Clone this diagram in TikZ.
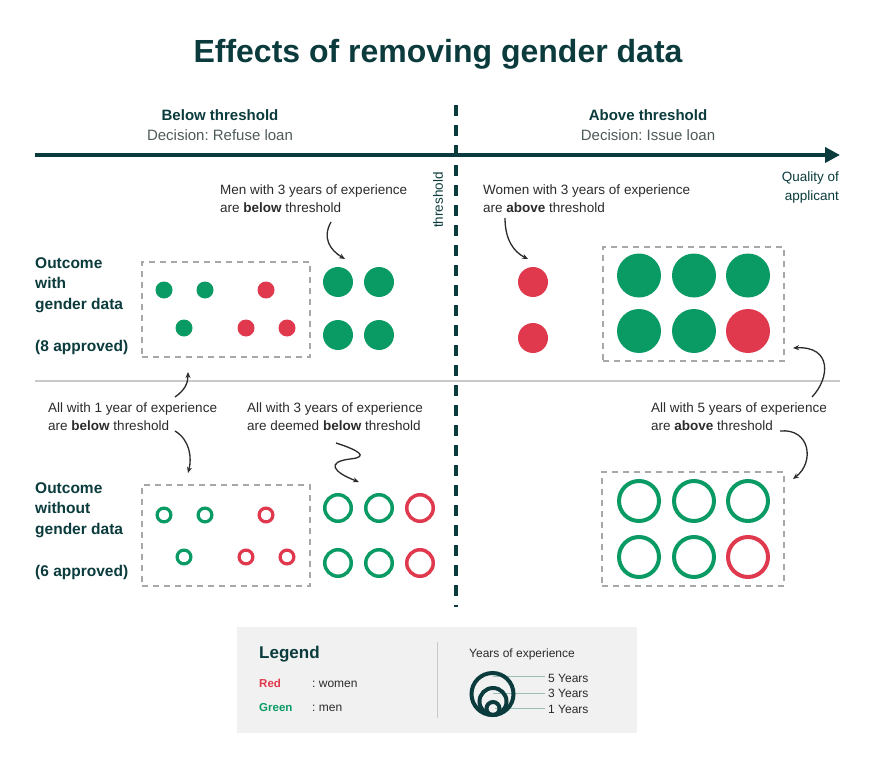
\documentclass[tikz,border=0pt]{standalone}
\usepackage{fontspec}
\setmainfont{Liberation Sans}
\usetikzlibrary{arrows.meta}
\frenchspacing
\definecolor{dteal}{HTML}{0B3B3C}
\definecolor{cgreen}{HTML}{0A9A64}
\definecolor{cred}{HTML}{E0394D}
\definecolor{boxgray}{HTML}{A8A8A8}
\definecolor{sepgray}{HTML}{C9C9C9}
\definecolor{legbg}{HTML}{F1F1F1}
\definecolor{anntext}{HTML}{2B2B2B}
\definecolor{decgray}{HTML}{4F5B5B}
\definecolor{legline}{HTML}{9CBDB8}
\newcommand\myfs[2]{\fontsize{#1}{#2}\selectfont}
\tikzset{
  dbox/.style={draw=boxgray, line width=2, dash pattern=on 6pt off 5pt, inner sep=0},
  sfill/.style={circle, inner sep=0, minimum size=17},
  mfill/.style={circle, inner sep=0, minimum size=30},
  lfill/.style={circle, inner sep=0, minimum size=44},
  sring/.style={circle, inner sep=0, minimum size=13.8, line width=3.2, fill=none},
  mring/.style={circle, inner sep=0, minimum size=26.5, line width=3.5, fill=none},
  lring/.style={circle, inner sep=0, minimum size=40, line width=4, fill=none},
  gf/.style={fill=cgreen}, rf/.style={fill=cred},
  gd/.style={draw=cgreen}, rd/.style={draw=cred},
  ann/.style={draw=anntext, line width=1.3, -{Stealth[length=6pt,width=5pt]}},
  anntxt/.style={anchor=north west, inner sep=0, align=left, text=anntext, font={\myfs{13.5}{18}}},
  outlbl/.style={anchor=north west, inner sep=0, align=left, text=dteal, font={\myfs{15.5}{20.5}\bfseries}},
  outcnt/.style={anchor=base west, inner sep=0, text=dteal, font={\myfs{15.5}{20.5}\bfseries}},
  headb/.style={anchor=base, inner sep=0, text=dteal, font={\myfs{15}{18}\bfseries}},
  headd/.style={anchor=base, inner sep=0, text=decgray, font={\myfs{15}{18}}},
  legtxt/.style={anchor=base west, inner sep=0, text=anntext, font={\myfs{12}{14}}},
}
\begin{document}
\begin{tikzpicture}[x=1pt,y=-1pt]
\useasboundingbox (0,0) rectangle (874,767);
\fill[white] (0,0) rectangle (874,767);

% title
\node[anchor=base, inner sep=0, text=dteal, font={\myfs{32}{38}\bfseries}] (title) at (438,63) {Effects of removing gender data};

% headers
\node[headb] (bt) at (220,121) {Below threshold};
\node[headd] (bd) at (220,141) {Decision: Refuse loan};
\node[headb] (at) at (648,121) {Above threshold};
\node[headd] (ad) at (648,141) {Decision: Issue loan};

% axis
\coordinate (axL) at (35,155);
\coordinate (axR) at (840,155);
\draw[line width=4.5, dteal, -{Triangle[length=15pt,width=15pt]}] (axL) -- (axR);
\node[anchor=north east, inner sep=0, align=right, text=dteal, font={\myfs{13.5}{19}}] (qual) at (839,172) {Quality of\\applicant};

% separator
\coordinate (sepL) at (35,381);
\coordinate (sepR) at (840,381);
\draw[sepgray, line width=2] (sepL) -- (sepR);

% threshold
\coordinate (thT) at (456,105);
\coordinate (thB) at (456,607);
\draw[line width=4.5, dteal, dash pattern=on 11pt off 9pt] (thT) -- (thB);
\node[rotate=90, inner sep=0, text=dteal, font={\myfs{13.5}{16}}] (thl) at (438,200) {threshold};

% annotations
\node[anntxt] (men) at (220,185) {Men with 3 years of experience\\are \textbf{below} threshold};
\node[anntxt] (women) at (483,185) {Women with 3 years of experience\\are \textbf{above} threshold};
\node[anntxt] (one) at (48,403) {All with 1 year of experience\\are \textbf{below} threshold};
\node[anntxt] (three) at (247,403) {All with 3 years of experience\\are deemed \textbf{below} threshold};
\node[anntxt] (five) at (651,403) {All with 5 years of experience\\are \textbf{above} threshold};

% outcome labels
\node[outlbl] (o1) at (35,257) {Outcome\\with\\gender data};
\node[outcnt] (o1c) at (35,351) {(8 approved)};
\node[outlbl] (o2) at (35,482) {Outcome\\without\\gender data};
\node[outcnt] (o2c) at (35,576) {(6 approved)};

% boxes
\node[dbox, minimum width=168, minimum height=95] (bA) at (226,309.5) {};
\node[dbox, minimum width=181, minimum height=114] (bB) at (693.5,304) {};
\node[dbox, minimum width=168, minimum height=101] (bC) at (226,535.5) {};
\node[dbox, minimum width=182, minimum height=114] (bD) at (693,529) {};

% top-left small dots
\node[sfill,gf] (a1) at (164,290) {};
\node[sfill,gf] (a2) at (205,290) {};
\node[sfill,rf] (a3) at (266,290) {};
\node[sfill,gf] (a4) at (184,328) {};
\node[sfill,rf] (a5) at (246,328) {};
\node[sfill,rf] (a6) at (287,328) {};
% top-left medium dots
\node[mfill,gf] (b1) at (338,282) {};
\node[mfill,gf] (b2) at (379,282) {};
\node[mfill,gf] (b3) at (338,335) {};
\node[mfill,gf] (b4) at (379,335) {};
% top-right women
\node[mfill,rf] (c1) at (533,282) {};
\node[mfill,rf] (c2) at (533,338) {};
% top-right large
\node[lfill,gf] (d1) at (639,275.5) {};
\node[lfill,gf] (d2) at (694,275.5) {};
\node[lfill,gf] (d3) at (748,275.5) {};
\node[lfill,gf] (d4) at (639,331) {};
\node[lfill,gf] (d5) at (694,331) {};
\node[lfill,rf] (d6) at (748,331) {};

% bottom-left small rings
\node[sring,gd] (e1) at (164,515) {};
\node[sring,gd] (e2) at (205,515) {};
\node[sring,rd] (e3) at (266,515) {};
\node[sring,gd] (e4) at (184,557) {};
\node[sring,rd] (e5) at (246,557) {};
\node[sring,rd] (e6) at (287,557) {};
% bottom medium rings
\node[mring,gd] (f1) at (338,508) {};
\node[mring,gd] (f2) at (379,508) {};
\node[mring,rd] (f3) at (420,508) {};
\node[mring,gd] (f4) at (338,563) {};
\node[mring,gd] (f5) at (379,563) {};
\node[mring,rd] (f6) at (420,563) {};
% bottom right large rings
\node[lring,gd] (g1) at (639,501) {};
\node[lring,gd] (g2) at (694,501) {};
\node[lring,gd] (g3) at (748,501) {};
\node[lring,gd] (g4) at (639,557) {};
\node[lring,gd] (g5) at (694,557) {};
\node[lring,rd] (g6) at (748,557) {};

% arrows
\coordinate (m0) at (331,222); \coordinate (m1) at (345,259);
\draw[ann] (m0) .. controls (322,238) and (330,250) .. (m1);
\coordinate (w0) at (505,218); \coordinate (w1) at (528,259);
\draw[ann] (w0) .. controls (505,240) and (514,252) .. (w1);
\coordinate (r0) at (812,397); \coordinate (r1) at (793,348);
\draw[ann] (r0) .. controls (830,378) and (832,346) .. (r1);
\coordinate (l0) at (175,397); \coordinate (l1) at (188,372);
\draw[ann] (l0) .. controls (185,390) and (188,383) .. (l1);
\coordinate (n0) at (175,431); \coordinate (n1) at (188,473);
\draw[ann] (n0) .. controls (190,440) and (192,458) .. (n1);
\coordinate (q0) at (336,443); \coordinate (q1) at (350,459); \coordinate (q2) at (359,482);
\draw[ann] (q0) .. controls (358,450) and (370,457) .. (q1) .. controls (326,462) and (333,472) .. (q2);
\coordinate (v0) at (780,431); \coordinate (v1) at (793,479);
\draw[ann] (v0) .. controls (810,428) and (815,462) .. (v1);

% legend
\node[fill=legbg, minimum width=400, minimum height=106, inner sep=0] (legend) at (437,680) {};
\coordinate (dvT) at (437,642); \coordinate (dvB) at (437,718);
\draw[sepgray, line width=1] (dvT) -- (dvB);
\node[anchor=base west, inner sep=0, text=dteal, font={\myfs{17}{20}\bfseries}] (legt) at (259,658) {Legend};
\node[anchor=base west, inner sep=0, text=cred, font={\myfs{11.5}{14}\bfseries}] (lred) at (259,687) {Red};
\node[legtxt] (lwomen) at (312,687) {: women};
\node[anchor=base west, inner sep=0, text=cgreen, font={\myfs{11.5}{14}\bfseries}] (lgreen) at (259,711) {Green};
\node[legtxt] (lmen) at (312,711) {: men};
\node[legtxt] (lyears) at (469,657) {Years of experience};
\node[legtxt] (y5) at (548,682) {5 Years};
\node[legtxt] (y3) at (548,697) {3 Years};
\node[legtxt] (y1) at (548,713) {1 Years};
\coordinate (k5) at (493,676); \coordinate (k5e) at (545,676);
\coordinate (k3) at (493,693); \coordinate (k3e) at (545,693);
\coordinate (k1) at (495,708); \coordinate (k1e) at (545,708);
\draw[legline, line width=1] (k5) -- (k5e);
\draw[legline, line width=1] (k3) -- (k3e);
\draw[legline, line width=1] (k1) -- (k1e);
\node[circle, draw=dteal, line width=4, inner sep=0, minimum size=42] (cy5) at (492.5,694) {};
\node[circle, draw=dteal, line width=4, inner sep=0, minimum size=27] (cy3) at (493,701.5) {};
\node[circle, draw=dteal, line width=4, inner sep=0, minimum size=13] (cy1) at (493,708.5) {};
\end{tikzpicture}
\end{document}
